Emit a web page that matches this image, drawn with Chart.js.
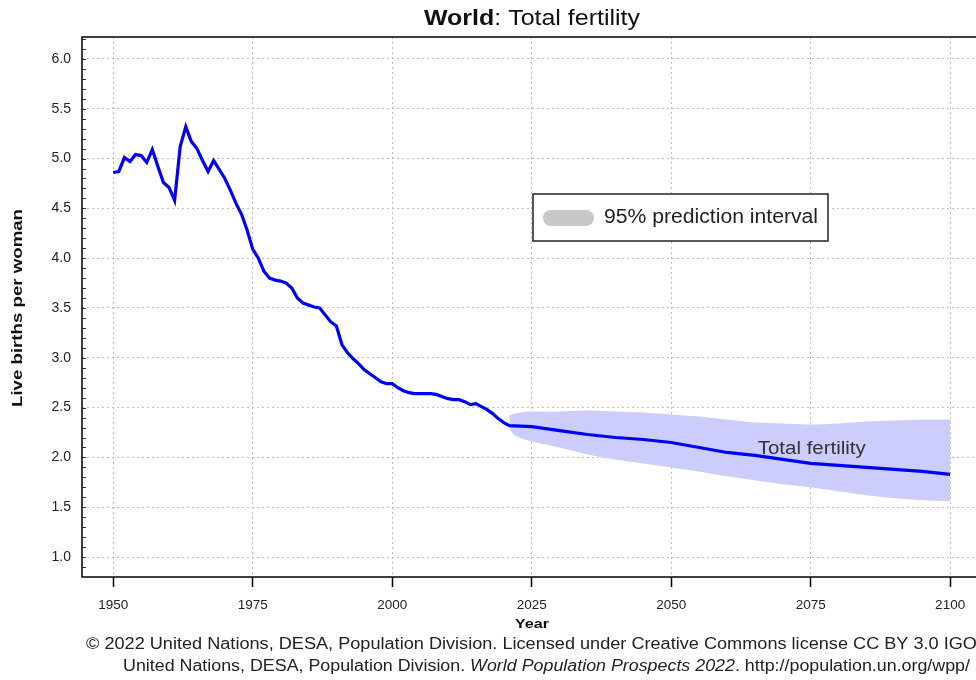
<!DOCTYPE html>
<html>
<head>
<meta charset="utf-8">
<script src="https://cdn.jsdelivr.net/npm/chart.js@4.4.1/dist/chart.umd.min.js"></script>
<style>
  html, body { margin: 0; padding: 0; background: #fff; }
  #wrap { width: 976px; height: 680px; overflow: hidden; position: relative; }
</style>
</head>
<body>
<div id="wrap"><canvas id="tfrchart" width="1000" height="680"></canvas></div>
<script>
// estimates (1950-2021)
var histYears = [1950, 1951, 1952, 1953, 1954, 1955, 1956, 1957, 1958, 1959,
    1960, 1961, 1962, 1963, 1964, 1965, 1966, 1967, 1968, 1969,
    1970, 1971, 1972, 1973, 1974, 1975, 1976, 1977, 1978, 1979,
    1980, 1981, 1982, 1983, 1984, 1985, 1986, 1987, 1988, 1989,
    1990, 1991, 1992, 1993, 1994, 1995, 1996, 1997, 1998, 1999,
    2000, 2001, 2002, 2003, 2004, 2005, 2006, 2007, 2008, 2009,
    2010, 2011, 2012, 2013, 2014, 2015, 2016, 2017, 2018, 2019,
    2020, 2021];
var histTfr = [4.86, 4.87, 5.01, 4.97, 5.04, 5.03, 4.96, 5.09, 4.92, 4.76,
    4.71, 4.58, 5.12, 5.32, 5.17, 5.10, 4.98, 4.87, 4.98, 4.89,
    4.80, 4.68, 4.55, 4.44, 4.28, 4.09, 4.00, 3.87, 3.80, 3.78,
    3.77, 3.75, 3.70, 3.60, 3.55, 3.53, 3.51, 3.50, 3.43, 3.36,
    3.32, 3.13, 3.05, 2.99, 2.94, 2.88, 2.84, 2.80, 2.76, 2.74,
    2.74, 2.70, 2.67, 2.65, 2.64, 2.64, 2.64, 2.64, 2.63, 2.61,
    2.59, 2.58, 2.58, 2.56, 2.53, 2.54, 2.51, 2.48, 2.44, 2.39,
    2.35, 2.32];

// projections (median)
var projYears = [2025, 2030, 2035, 2040, 2045, 2050, 2055, 2060, 2065, 2070, 2075, 2080, 2085, 2090, 2095, 2100];
var projTfr = [2.31, 2.27, 2.23, 2.20, 2.18, 2.15, 2.10, 2.05, 2.02, 1.98, 1.94, 1.92, 1.90, 1.88, 1.86, 1.83];

// 95% prediction interval
var bandYears = [2021, 2022, 2025, 2030, 2035, 2040, 2045, 2050, 2055, 2060, 2065, 2070, 2075, 2080, 2085, 2090, 2095, 2100];
var bandUpper = [2.42, 2.44, 2.46, 2.46, 2.47, 2.46, 2.45, 2.43, 2.41, 2.38, 2.35, 2.34, 2.33, 2.34, 2.36, 2.37, 2.38, 2.38];
var bandLower = [2.29, 2.22, 2.16, 2.10, 2.03, 1.98, 1.94, 1.90, 1.86, 1.81, 1.77, 1.73, 1.70, 1.66, 1.62, 1.59, 1.57, 1.56];

var xTicks = [1950, 1975, 2000, 2025, 2050, 2075, 2100];
var yTicks = [1.0, 1.5, 2.0, 2.5, 3.0, 3.5, 4.0, 4.5, 5.0, 5.5, 6.0];

var FONT = "'Liberation Sans', Arial, sans-serif";

function pts(xs, ys) {
    var out = [];
    for (var i = 0; i < xs.length; i++) out.push({x: xs[i], y: ys[i]});
    return out;
}

// draw text runs [font, text] stretched horizontally to a given width
function wideText(ctx, runs, x, y, width, align) {
    var total = 0, i;
    for (i = 0; i < runs.length; i++) {
        ctx.font = runs[i][0];
        total += ctx.measureText(runs[i][1]).width;
    }
    var k = width / total;
    var start = align === 'center' ? x - width / 2 : x;
    ctx.save();
    ctx.translate(start, y);
    ctx.scale(k, 1);
    ctx.textAlign = 'left';
    ctx.textBaseline = 'middle';
    var cx = 0;
    for (i = 0; i < runs.length; i++) {
        ctx.font = runs[i][0];
        ctx.fillText(runs[i][1], cx, 0);
        cx += ctx.measureText(runs[i][1]).width;
    }
    ctx.restore();
}

var years = histYears.concat(projYears);
var tfr = histTfr.concat(projTfr);

var extras = {
    id: 'extras',
    afterDraw: function(chart) {
        var ctx = chart.ctx, a = chart.chartArea;
        var sx = chart.scales.x, sy = chart.scales.y;
        ctx.save();

        // minor ticks inside left border
        ctx.strokeStyle = '#333';
        ctx.lineWidth = 1;
        for (var k = 9; k <= 62; k++) {
            var py = Math.round(sy.getPixelForValue(k / 10)) + 0.5;
            ctx.beginPath();
            ctx.moveTo(a.left, py);
            ctx.lineTo(a.left + 4, py);
            ctx.stroke();
        }

        // frame
        ctx.strokeStyle = '#000';
        ctx.lineWidth = 1.5;
        ctx.strokeRect(a.left, a.top, a.right - a.left, a.bottom - a.top);

        // legend box
        ctx.fillStyle = '#fff';
        ctx.fillRect(533, 194, 295, 47);
        ctx.strokeStyle = '#222';
        ctx.lineWidth = 1.5;
        ctx.strokeRect(533, 194, 295, 47);
        ctx.fillStyle = '#c8c8c8';
        ctx.beginPath();
        ctx.moveTo(551, 210);
        ctx.lineTo(586, 210);
        ctx.arc(586, 218, 8, -Math.PI / 2, Math.PI / 2);
        ctx.lineTo(551, 226);
        ctx.arc(551, 218, 8, Math.PI / 2, Math.PI * 1.5);
        ctx.fill();
        ctx.fillStyle = '#222';
        wideText(ctx, [['19.5px ' + FONT, '95% prediction interval']], 604, 218, 214, 'left');

        // series label
        ctx.fillStyle = '#333';
        wideText(ctx, [['18px ' + FONT, 'Total fertility']], sx.getPixelForValue(2075.2), sy.getPixelForValue(2.08), 108, 'center');

        // axis titles
        ctx.fillStyle = '#111';
        wideText(ctx, [['bold 13.5px ' + FONT, 'Year']], 532, 624, 34, 'center');
        ctx.save();
        ctx.translate(18, 308);
        ctx.rotate(-Math.PI / 2);
        wideText(ctx, [['bold 14.5px ' + FONT, 'Live births per woman']], 0, 0, 198, 'center');
        ctx.restore();

        // title
        ctx.fillStyle = '#111';
        wideText(ctx, [['bold 22px ' + FONT, 'World'], ['22px ' + FONT, ': Total fertility']], 532, 19, 216, 'center');

        // footer
        ctx.fillStyle = '#222';
        wideText(ctx, [['16px ' + FONT, '\u00a9 2022 United Nations, DESA, Population Division. Licensed under Creative Commons license CC BY 3.0 IGO.']], 86, 645, 896, 'left');
        wideText(ctx, [
            ['16px ' + FONT, 'United Nations, DESA, Population Division. '],
            ['italic 16px ' + FONT, 'World Population Prospects 2022'],
            ['16px ' + FONT, '. http://population.un.org/wpp/']
        ], 123, 667, 847, 'left');

        ctx.restore();
    }
};

var chart1 = document.getElementById('tfrchart');
var myChart1 = new Chart(chart1, {
type: 'line',
data: {
    datasets: [{
        label: 'Total fertility',
        data: pts(years, tfr),
        borderColor: '#0000f0',
        borderWidth: 3.2,
        pointRadius: 0,
        tension: 0,
        fill: false
    }, {
        label: 'upper 95',
        data: pts(bandYears, bandUpper),
        borderWidth: 0,
        borderColor: 'rgba(0,0,0,0)',
        backgroundColor: 'rgb(204, 204, 253)',
        pointRadius: 0,
        tension: 0.3,
        fill: '+1'
    }, {
        label: 'lower 95',
        data: pts(bandYears, bandLower),
        borderWidth: 0,
        borderColor: 'rgba(0,0,0,0)',
        pointRadius: 0,
        tension: 0.3,
        fill: false
    }]
},
options: {
    responsive: false,
    animation: false,
    layout: {
        padding: {top: 37, left: 0, right: 3, bottom: 0}
    },
    scales: {
        x: {
            type: 'linear',
            min: 1944.4,
            max: 2108.4,
            afterBuildTicks: function(scale) {
                scale.ticks = xTicks.map(function(v) { return {value: v}; });
            },
            afterFit: function(scale) { scale.height = 103; },
            grid: {
                color: '#bdbdbd',
                lineWidth: 1,
                drawTicks: true,
                tickLength: 10,
                tickColor: '#000',
                tickWidth: 1.5,
                tickBorderDash: []
            },
            border: { display: false, dash: [2, 3] },
            ticks: {
                color: '#222',
                padding: 10,
                maxRotation: 0,
                font: {family: FONT, size: 13.5},
                callback: function(v) { return String(v); }
            }
        },
        y: {
            min: 0.8,
            max: 6.22,
            afterBuildTicks: function(scale) {
                scale.ticks = yTicks.map(function(v) { return {value: v}; });
            },
            afterFit: function(scale) { scale.width = 82; },
            grid: {
                color: '#bdbdbd',
                lineWidth: 1,
                drawTicks: false
            },
            border: { display: false, dash: [2, 3] },
            ticks: {
                color: '#222',
                padding: 11,
                font: {family: FONT, size: 14},
                callback: function(v) { return v.toFixed(1); }
            }
        }
    },
    plugins: {
        legend: { display: false },
        title: { display: false },
        tooltip: { enabled: false }
    }
},
plugins: [extras]
});
</script>
</body>
</html>
